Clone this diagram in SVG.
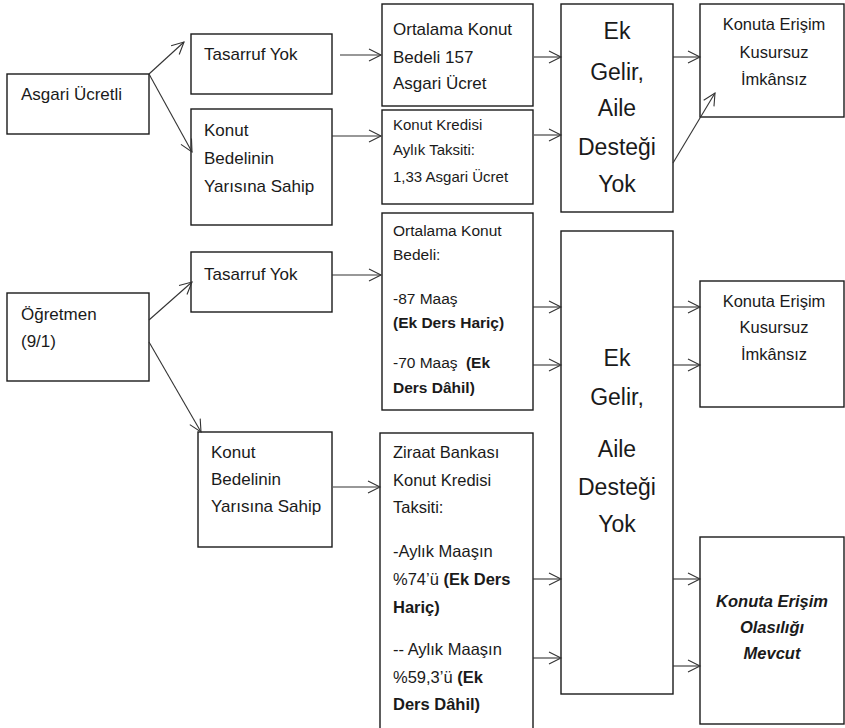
<svg xmlns="http://www.w3.org/2000/svg" width="845" height="728" viewBox="0 0 845 728">
<style>
.box{fill:#fff;stroke:#1a1a1a;stroke-width:1.4}
text{font-family:"Liberation Sans",Arial,sans-serif;fill:#1a1a1a}
.t17{font-size:17px}
.t15{font-size:15px}
.t155{font-size:15.5px}
.t165{font-size:16.5px}
.big{font-size:23px;text-anchor:middle}
.mid{text-anchor:middle}
.b{font-weight:bold}
.bi{font-weight:bold;font-style:italic}
.c line{stroke:#333;stroke-width:1.1;marker-end:url(#ah)}
</style>
<defs>
<marker id="ah" markerUnits="userSpaceOnUse" markerWidth="14" markerHeight="14" refX="12" refY="6" orient="auto" overflow="visible">
<path d="M0,0 L12,6 L0,12" fill="none" stroke="#333" stroke-width="1.1"/>
</marker>
</defs>
<rect width="845" height="728" fill="#fff"/>
<g id="asgari">
<rect class="box" x="7" y="74" width="142" height="60"/>
<text class="t17" x="21" y="100">Asgari Ücretli</text>
</g>
<g id="tasarruf1">
<rect class="box" x="191" y="34" width="141" height="60"/>
<text class="t17" x="204" y="60">Tasarruf Yok</text>
</g>
<g id="yarisina1">
<rect class="box" x="191" y="109" width="141" height="116"/>
<text class="t17" x="204" y="136">Konut</text>
<text class="t17" x="204" y="164">Bedelinin</text>
<text class="t17" x="204" y="192">Yarısına Sahip</text>
</g>
<g id="ortalama1">
<rect class="box" x="382" y="4" width="151" height="102"/>
<text class="t17" x="393" y="35">Ortalama Konut</text>
<text class="t17" x="393" y="63">Bedeli 157</text>
<text class="t17" x="393" y="89">Asgari Ücret</text>
</g>
<g id="kredi1">
<rect class="box" x="382" y="110" width="151" height="94"/>
<text class="t15" x="393" y="130">Konut Kredisi</text>
<text class="t15" x="393" y="155">Aylık Taksiti:</text>
<text class="t15" x="393" y="182">1,33 Asgari Ücret</text>
</g>
<g id="ekgelir1">
<rect class="box" x="561" y="4" width="112" height="208"/>
<text class="big" x="617" y="39">Ek</text>
<text class="big" x="617" y="80">Gelir,</text>
<text class="big" x="617" y="116">Aile</text>
<text class="big" x="617" y="155">Desteği</text>
<text class="big" x="617" y="192">Yok</text>
</g>
<g id="erisim1">
<rect class="box" x="700" y="4" width="144" height="113"/>
<text class="t165 mid" x="774" y="30">Konuta Erişim</text>
<text class="t165 mid" x="774" y="58">Kusursuz</text>
<text class="t165 mid" x="774" y="85">İmkânsız</text>
</g>
<g id="ogretmen">
<rect class="box" x="7" y="293" width="142" height="88"/>
<text class="t17" x="21" y="320">Öğretmen</text>
<text class="t17" x="21" y="347">(9/1)</text>
</g>
<g id="tasarruf2">
<rect class="box" x="191" y="252" width="141" height="60"/>
<text class="t17" x="204" y="280">Tasarruf Yok</text>
</g>
<g id="yarisina2">
<rect class="box" x="198" y="432" width="134" height="115"/>
<text class="t17" x="211" y="458">Konut</text>
<text class="t17" x="211" y="485">Bedelinin</text>
<text class="t17" x="211" y="512">Yarısına Sahip</text>
</g>
<g id="ortalama2">
<rect class="box" x="382" y="213" width="151" height="197"/>
<text class="t155" x="393" y="236">Ortalama Konut</text>
<text class="t155" x="393" y="260">Bedeli:</text>
<text class="t155" x="393" y="304">-87 Maaş</text>
<text class="t155 b" x="393" y="328">(Ek Ders Hariç)</text>
<text class="t155" x="393" y="368">-70 Maaş <tspan class="b" dx="4">(Ek</tspan></text>
<text class="t155 b" x="393" y="393">Ders Dâhil)</text>
</g>
<g id="ziraat">
<rect class="box" x="380" y="433" width="153" height="300"/>
<text class="t165" x="393" y="458">Ziraat Bankası</text>
<text class="t165" x="393" y="486">Konut Kredisi</text>
<text class="t165" x="393" y="513">Taksiti:</text>
<text class="t165" x="393" y="557">-Aylık Maaşın</text>
<text class="t165" x="393" y="585">%74’ü <tspan class="b">(Ek Ders</tspan></text>
<text class="t165 b" x="393" y="613">Hariç)</text>
<text class="t165" x="393" y="655">-- Aylık Maaşın</text>
<text class="t165" x="393" y="683">%59,3’ü <tspan class="b">(Ek</tspan></text>
<text class="t165 b" x="393" y="710">Ders Dâhil)</text>
</g>
<g id="ekgelir2">
<rect class="box" x="561" y="231" width="112" height="463"/>
<text class="big" x="617" y="366">Ek</text>
<text class="big" x="617" y="405">Gelir,</text>
<text class="big" x="617" y="457">Aile</text>
<text class="big" x="617" y="495">Desteği</text>
<text class="big" x="617" y="532">Yok</text>
</g>
<g id="erisim2">
<rect class="box" x="700" y="281" width="144" height="126"/>
<text class="t165 mid" x="774" y="307">Konuta Erişim</text>
<text class="t165 mid" x="774" y="333">Kusursuz</text>
<text class="t165 mid" x="774" y="360">İmkânsız</text>
</g>
<g id="olasilik">
<rect class="box" x="700" y="537" width="144" height="187"/>
<text class="t165 bi mid" x="772" y="607">Konuta Erişim</text>
<text class="t165 bi mid" x="772" y="633">Olasılığı</text>
<text class="t165 bi mid" x="772" y="659">Mevcut</text>
</g>
<g class="c" id="connectors">
<line x1="149" y1="74" x2="184" y2="42"/>
<line x1="149" y1="74" x2="192" y2="152"/>
<line x1="340" y1="55" x2="381" y2="55"/>
<line x1="332" y1="136" x2="381" y2="136"/>
<line x1="534" y1="57" x2="561" y2="57"/>
<line x1="534" y1="135" x2="561" y2="135"/>
<line x1="673" y1="57" x2="700" y2="57"/>
<line x1="673" y1="163" x2="715" y2="93"/>
<line x1="149" y1="320" x2="192" y2="282"/>
<line x1="149" y1="342" x2="201" y2="432"/>
<line x1="332" y1="275" x2="381" y2="275"/>
<line x1="333" y1="487" x2="380" y2="487"/>
<line x1="533" y1="307" x2="561" y2="307"/>
<line x1="533" y1="365" x2="561" y2="365"/>
<line x1="673" y1="307" x2="700" y2="307"/>
<line x1="673" y1="365" x2="700" y2="365"/>
<line x1="533" y1="579" x2="561" y2="579"/>
<line x1="533" y1="658" x2="561" y2="658"/>
<line x1="673" y1="579" x2="700" y2="579"/>
<line x1="673" y1="666" x2="700" y2="666"/>
</g>
</svg>
